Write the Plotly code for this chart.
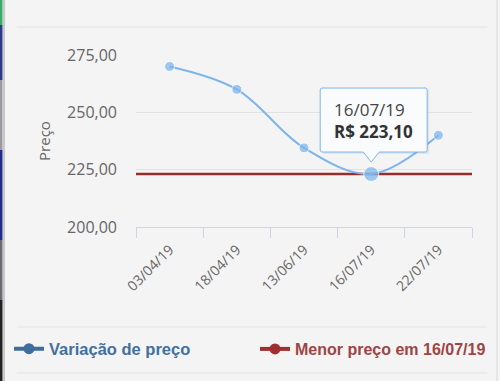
import plotly.graph_objects as go

dates = ["03/04/19", "18/04/19", "13/06/19", "16/07/19", "22/07/19"]
prices = [270.0, 260.0, 234.5, 223.1, 240.0]
y_ticks = [200, 225, 250, 275]
y_tick_labels = ["200,00", "225,00", "250,00", "275,00"]
series_name = "Variação de preço"
min_name = "Menor preço em 16/07/19"

min_price = min(prices)
min_idx = prices.index(min_price)

BLUE = "#7cb5ec"
RED = "#9b2b2b"
FONT = "Open Sans"

W, H = 500, 381
ml, mr, mt, mb = 136, 28, 55, 154
pw, ph = W - ml - mr, H - mt - mb


def px_x(p):
    return (p - ml) / pw


def px_y(p):
    return (H - mb - p) / ph


sizes = [15 if i == min_idx else 10 for i in range(len(prices))]

fig = go.Figure()
fig.add_trace(go.Scatter(
    x=dates, y=prices, mode="lines+markers",
    line=dict(color=BLUE, width=2, shape="spline", smoothing=1.0),
    marker=dict(color=BLUE, size=sizes),
    showlegend=False,
))
# legend entries
fig.add_trace(go.Scatter(
    x=[None], y=[None], mode="lines+markers",
    line=dict(color="#3f6d9c", width=4),
    marker=dict(color="#3f6d9c", size=11, symbol="circle"),
    name="<span style='color:#41709f'><b>" + series_name + "</b></span>",
    legend="legend",
))
fig.add_trace(go.Scatter(
    x=[None], y=[None], mode="lines+markers",
    line=dict(color="#9e3030", width=4),
    marker=dict(color="#9e3030", size=11, symbol="circle"),
    name="<span style='color:#9e4444'><b>" + min_name + "</b></span>",
    legend="legend2",
))

# minimum price line across the whole plot
fig.add_shape(type="line", xref="x domain", yref="y", x0=0, x1=1,
              y0=min_price, y1=min_price, line=dict(color=RED, width=2.5),
              layer="below")

# tooltip box with pointer (pixel offsets relative to the minimum point)
tip_path = ("M -49,22 L -8,22 L 0,12 L 8,22 L 54,22 Q 56,22 56,24 L 56,84 Q 56,86 54,86 "
            "L -49,86 Q -51,86 -51,84 L -51,24 Q -51,22 -49,22 Z")
shadow_path = "M -48,20 L 58,20 L 58,84 L -48,84 Z"
fig.add_shape(type="path", xref="x", yref="y", xsizemode="pixel", ysizemode="pixel",
              xanchor=min_idx, yanchor=min_price, path=shadow_path,
              fillcolor="rgba(0,0,0,0.06)", line=dict(width=0))
fig.add_shape(type="path", xref="x", yref="y", xsizemode="pixel", ysizemode="pixel",
              xanchor=min_idx, yanchor=min_price, path=tip_path,
              fillcolor="rgba(250,251,252,1)", line=dict(color=BLUE, width=1))
fig.add_annotation(
    x=dates[min_idx], y=min_price, xref="x", yref="y", showarrow=False,
    xshift=2, yshift=54, align="left",
    text="<span style='color:#444'>" + dates[min_idx] + "</span><br><b>R$ "
         + f"{min_price:.2f}".replace(".", ",") + "</b>",
    font=dict(family=FONT, size=17, color="#333333"),
)

for yy in (27, 327, 373):
    fig.add_shape(type="line", xref="paper", yref="paper",
                  x0=px_x(17), x1=px_x(487), y0=px_y(yy), y1=px_y(yy),
                  line=dict(color="#e4e4e4", width=1))
# page borders
fig.add_shape(type="line", xref="paper", yref="paper", x0=px_x(4), x1=px_x(4),
              y0=px_y(0), y1=px_y(381), line=dict(color="#c8c8c8", width=2))
fig.add_shape(type="line", xref="paper", yref="paper", x0=px_x(497), x1=px_x(497),
              y0=px_y(0), y1=px_y(381), line=dict(color="#d8d8d8", width=1))
for y0, y1, c in [(0, 25, "#3aaa6a"), (25, 80, "#2a3a8a"), (80, 150, "#9a9aa0"),
                  (150, 240, "#1e2e8a"), (240, 300, "#6a6a70"), (300, 381, "#202020")]:
    fig.add_shape(type="rect", xref="paper", yref="paper", x0=px_x(0), x1=px_x(2.5),
                  y0=px_y(y1), y1=px_y(y0), fillcolor=c, line=dict(width=0))

leg_common = dict(orientation="h", xanchor="left", yanchor="middle",
                  bgcolor="rgba(0,0,0,0)", itemclick=False, itemwidth=30)
fig.update_layout(
    width=W, height=H,
    margin=dict(l=ml, r=mr, t=mt, b=mb, pad=0, autoexpand=False),
    paper_bgcolor="#f4f4f4", plot_bgcolor="#f4f4f4",
    font=dict(family=FONT, size=13, color="#666666"),
    showlegend=True,
    legend=dict(x=px_x(9), y=px_y(349), font=dict(family="Liberation Sans", size=16.5),
                **leg_common),
    legend2=dict(x=px_x(255), y=px_y(349), font=dict(family="Liberation Sans", size=16),
                 **leg_common),
    hovermode=False,
)
fig.update_xaxes(
    type="category", range=[-0.5, len(dates) - 0.5], automargin=False,
    tickson="boundaries", ticks="outside", ticklen=10, tickcolor="#ccd6eb",
    showline=True, linecolor="#ccd6eb", linewidth=1,
    showgrid=False, tickangle=-45, ticklabelstandoff=8,
    tickfont=dict(family=FONT, size=14, color="#666666"),
)
fig.update_yaxes(
    range=[200, 275], tickvals=y_ticks, ticktext=y_tick_labels, automargin=False,
    showgrid=True, gridcolor="#e2e2e2", gridwidth=1, zeroline=False,
    showline=False, ticks="", ticklabelstandoff=18,
    tickfont=dict(family=FONT, size=16, color="#666666"),
    title=dict(text="Preço", standoff=12, font=dict(family=FONT, size=15, color="#666666")),
)

fig.write_html(
    "out.html",
    config={"displayModeBar": False},
    post_script="document.body.style.margin='0';document.body.style.background='#f4f4f4';"
                "document.documentElement.style.overflow='hidden';",
)
